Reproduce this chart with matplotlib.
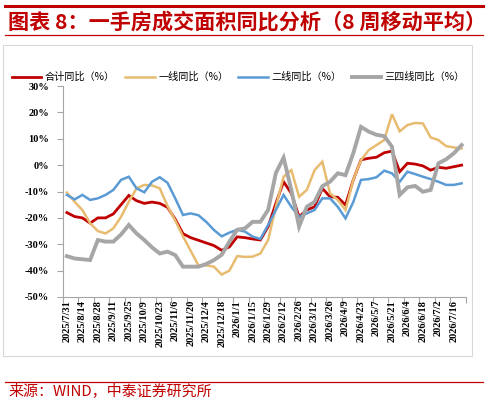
import matplotlib
matplotlib.use("Agg")
import matplotlib.pyplot as plt
from matplotlib.lines import Line2D
from matplotlib.patches import Rectangle
import numpy as np

# ---------------- data ----------------
series_names = ["合计同比（%）", "一线同比（%）", "二线同比（%）", "三四线同比（%）"]

total_yoy = [-18, -19.5, -20, -22, -20, -20, -18.5, -15, -11.5, -13.5,
             -14.5, -14, -14.5, -16, -20.5, -26, -27.5, -28.5, -29.5, -30.5,
             -32.3, -31, -27.2, -27.5, -28, -28.4, -23.3, -14.5, -6.3, -10.7,
             -19.6, -17, -15.8, -8.8, -12, -12.2, -15.1, -5.6, 2, 2.6,
             3, 4.7, 5.3, -2.5, 0.7, 0.4, -0.3, -1.9, -0.8, -1.2,
             -0.6, 0]
tier1_yoy = [-10.4, -13.9, -17, -22, -25, -25.9, -24, -19.6, -13.9, -8.8,
             -7.5, -7.7, -8.8, -15.5, -21, -27, -32.5, -38, -38, -38.5,
             -41.5, -40, -34.5, -34.8, -34.7, -33.5, -28.4, -15.8, -4.4, -1.9,
             -12, -9.4, -1.9, 1.3, -10.7, -13.2, -17, -5.6, 1.9, 5.7,
             7.6, 9.5, 19.3, 12.8, 15.2, 16, 15.8, 10.5, 9.5, 7.2,
             6.7, 6.3]
tier2_yoy = [-11.3, -13, -11.3, -13.2, -12.6, -11.3, -9.4, -5.6, -4.4, -8.8,
             -10.3, -6.3, -4.6, -6.7, -12.6, -18.9, -18.3, -19, -21.5, -24.6,
             -27, -25.6, -24.5, -25.2, -27.1, -28, -22.7, -17, -11.3, -15.8,
             -19.6, -18.3, -17, -12.6, -12.6, -15.8, -20.2, -14, -5.6, -5.3,
             -4.6, -2.1, -3.1, -6.3, -2.5, -3.4, -4.4, -5.3, -6.3, -7.5,
             -7.5, -6.9]
tier34_yoy = [-34.5, -35.4, -35.7, -36, -28.4, -29, -29, -26.3, -22.7, -25.9,
              -28.4, -31.2, -33.5, -32.8, -34.1, -38.5, -38.5, -38.5, -37.5, -36,
              -34, -29, -24.5, -24, -21.5, -21.5, -17, -3, 2.8, -9.4,
              -23.3, -15.8, -13.9, -8, -6.3, -3.1, -3.8, 4.5, 14.5, 12.7,
              11.5, 11, 7, -11.3, -8.4, -7.9, -10.1, -9.4, 0.7, 2.2,
              4.5, 7.6]

# every other week is labelled
tick_labels = ["2025/7/31", "2025/8/14", "2025/8/28", "2025/9/11", "2025/9/25",
               "2025/10/9", "2025/10/23", "2025/11/6", "2025/11/20", "2025/12/4",
               "2025/12/18", "2026/1/1", "2026/1/15", "2026/1/29", "2026/2/12",
               "2026/2/26", "2026/3/12", "2026/3/26", "2026/4/9", "2026/4/23",
               "2026/5/7", "2026/5/21", "2026/6/4", "2026/6/18", "2026/7/2",
               "2026/7/16"]
y_ticks = [30, 20, 10, 0, -10, -20, -30, -40, -50]

# ---------------- style ----------------
colors = ["#C00000", "#E8BC70", "#5B9BD5", "#A6A6A6"]
widths = [2.0, 1.8, 1.8, 2.8]
dark_red = "#C00000"
cjk = ["Noto Sans CJK SC", "DejaVu Sans"]
serif = ["Liberation Serif", "DejaVu Serif"]

W, H = 488, 405
fig = plt.figure(figsize=(W / 100, H / 100), dpi=100)

def fx(px):
    return px / W

def fy(py):
    return 1 - py / H

# chart frame
fig.add_artist(Rectangle((fx(3), fy(356)), fx(472) - fx(3), fy(45) - fy(356),
                         transform=fig.transFigure, fill=False,
                         edgecolor="#D9D9D9", linewidth=0.8))

# header / footer rules
fig.add_artist(Line2D([fx(5), fx(483)], [fy(6), fy(6)], color=dark_red, lw=2.2))
fig.add_artist(Line2D([fx(5), fx(483)], [fy(35), fy(35)], color=dark_red, lw=0.9))
fig.add_artist(Line2D([fx(5), fx(483)], [fy(382), fy(382)], color=dark_red, lw=0.9))

fig.text(fx(8), fy(22), "图表 8：一手房成交面积同比分析（8 周移动平均）",
         color=dark_red, fontsize=15.2, fontweight="bold", family=cjk,
         ha="left", va="center")
fig.text(fx(8), fy(391), "来源：WIND，中泰证券研究所", color=dark_red,
         fontsize=10.8, family=cjk, ha="left", va="center")

ax = fig.add_axes([fx(63), fy(297), fx(465.5) - fx(63), fy(86) - fy(297)])
n = len(total_yoy)
x = np.arange(n)
all_series = [total_yoy, tier1_yoy, tier2_yoy, tier34_yoy]
handles = []
for vals, c, lw, name in zip(all_series, colors, widths, series_names):
    h, = ax.plot(x, vals, color=c, lw=lw, solid_joinstyle="miter", label=name)
    handles.append(h)

ax.set_xlim(-0.5, n - 0.5)
ax.set_ylim(-50, 30)
ax.set_yticks(y_ticks)
ax.set_yticklabels([f"{v}%" for v in y_ticks])
for lab in ax.get_yticklabels():
    lab.set_family(serif)
    lab.set_fontweight("bold")
    lab.set_fontsize(7.5)

# x ticks: boundaries as major ticks, labels as minor
ax.set_xticks(np.arange(-0.5, n, 2))
ax.set_xticklabels([])
ax.set_xticks(np.arange(0, n, 2), minor=True)
ax.set_xticklabels(tick_labels, minor=True, rotation=90, family=serif,
                   fontweight="bold", fontsize=7.5, va="top")
ax.tick_params(axis="x", which="major", length=4, width=0.8, color="#A6A6A6")
ax.tick_params(axis="x", which="minor", length=0, pad=2)
ax.tick_params(axis="y", length=4, width=0.8, color="#A6A6A6", pad=6)

for s in ["top", "right"]:
    ax.spines[s].set_visible(False)
for s in ["left", "bottom"]:
    ax.spines[s].set_color("#A6A6A6")
    ax.spines[s].set_linewidth(0.8)

leg = fig.legend(handles=handles, labels=series_names, loc="center left",
                 bbox_to_anchor=(fx(12), fy(77)), ncol=4, frameon=False,
                 prop={"family": cjk, "size": 7.3}, handlelength=2.9,
                 handletextpad=0.35, columnspacing=1.0, borderpad=0,
                 borderaxespad=0)

fig.savefig("out.png", dpi=100)
